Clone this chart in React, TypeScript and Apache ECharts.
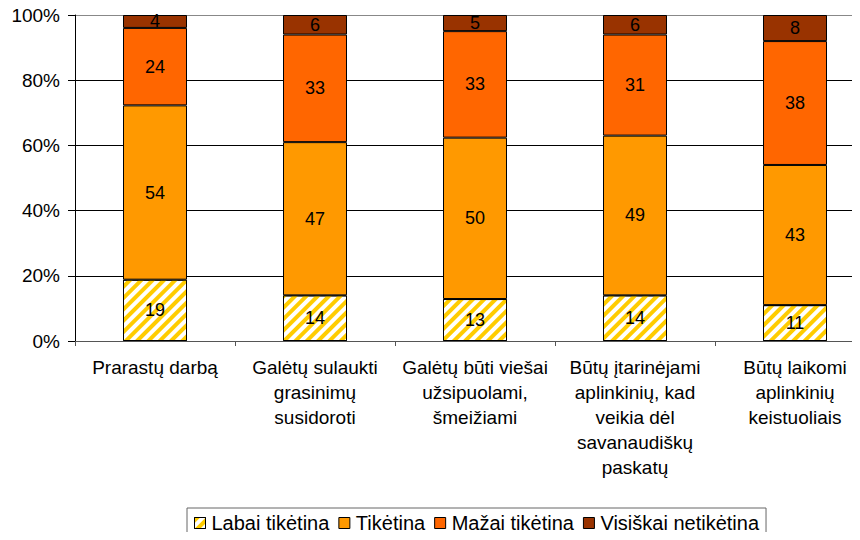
import React, { useEffect, useRef } from "react";
import * as echarts from "echarts";

const categories = [
  "Prarastų darbą",
  "Galėtų sulaukti\ngrasinimų\nsusidoroti",
  "Galėtų būti viešai\nužsipuolami,\nšmeižiami",
  "Būtų įtarinėjami\naplinkinių, kad\nveikia dėl\nsavanaudiškų\npaskatų",
  "Būtų laikomi\naplinkinių\nkeistuoliais",
];
const seriesNames = ["Labai tikėtina", "Tikėtina", "Mažai tikėtina", "Visiškai netikėtina"];
const labaiTiketina = [19, 14, 13, 14, 11];
const tiketina = [54, 47, 50, 49, 43];
const mazaiTiketina = [24, 33, 33, 31, 38];
const visiskaiNetiketina = [4, 6, 5, 6, 8];
const yTicks = [0, 20, 40, 60, 80, 100];

const FONT = "Liberation Sans, Arial, sans-serif";

export default function App() {
  const ref = useRef<HTMLDivElement>(null);
  useEffect(() => {
    if (!ref.current) return;
    const chart = echarts.init(ref.current, undefined, { renderer: "svg" });
    const raw = [labaiTiketina, tiketina, mazaiTiketina, visiskaiNetiketina];
    const totals = categories.map((_, i) => raw.reduce((s, arr) => s + arr[i], 0));
    const colors = ["#FFFFFF", "#FF9900", "#FF6600", "#993300"];
    const series = raw.map((arr, si) => ({
      name: seriesNames[si],
      type: "bar",
      stack: "total",
      barWidth: 64,
      data: arr.map((v, i) => (v / totals[i]) * 100),
      itemStyle: {
        color: colors[si],
        borderColor: "#000000",
        borderWidth: 1,
        ...(si === 0
          ? {
              decal: {
                symbol: "rect",
                symbolSize: 1,
                color: "#FFCC00",
                dashArrayX: [1, 0],
                dashArrayY: [4, 4],
                rotation: -Math.PI / 4,
              },
            }
          : {}),
      },
      label: {
        show: true,
        position: "inside",
        color: "#000000",
        fontFamily: FONT,
        fontSize: 18,
        formatter: (p: any) => String(arr[p.dataIndex]),
      },
      emphasis: { disabled: true },
    }));

    chart.setOption({
      animation: false,
      backgroundColor: "#FFFFFF",
      grid: {
        left: 75,
        width: 800,
        top: 15,
        bottom: 199,
        containLabel: false,
        outerBoundsMode: "none",
      },
      xAxis: {
        type: "category",
        data: categories,
        axisLine: { lineStyle: { color: "#555555", width: 1 } },
        axisTick: { show: true, length: 5, lineStyle: { color: "#555555" } },
        axisLabel: {
          interval: 0,
          color: "#000000",
          fontFamily: FONT,
          fontSize: 19,
          lineHeight: 25,
          margin: 14,
          align: "center",
        },
      },
      yAxis: {
        type: "value",
        min: yTicks[0],
        max: yTicks[yTicks.length - 1],
        interval: 20,
        axisLine: { show: true, lineStyle: { color: "#000000" } },
        axisTick: { show: true, length: 7, lineStyle: { color: "#000000" } },
        axisLabel: {
          color: "#000000",
          fontFamily: FONT,
          fontSize: 19,
          margin: 15,
          formatter: (v: number) => `${v}%`,
        },
        splitLine: {
          show: true,
          lineStyle: {
            color: ["#000000", "#000000", "#000000", "#000000", "#000000", "#888888"],
            width: 1,
          },
        },
      },
      legend: {
        data: seriesNames,
        left: 187,
        top: 508,
        orient: "horizontal",
        padding: [5, 7, 6, 7],
        borderColor: "#666666",
        borderWidth: 1,
        itemWidth: 11,
        itemHeight: 11,
        itemGap: 9,
        icon: "rect",
        textStyle: { color: "#000000", fontFamily: FONT, fontSize: 20, padding: [0, 0, 0, 1] },
        itemStyle: { borderColor: "#000000", borderWidth: 1 },
      },
      series,
    });
    return () => chart.dispose();
  }, []);
  return <div ref={ref} style={{ width: 860, height: 540, margin: -8 }} />;
}
